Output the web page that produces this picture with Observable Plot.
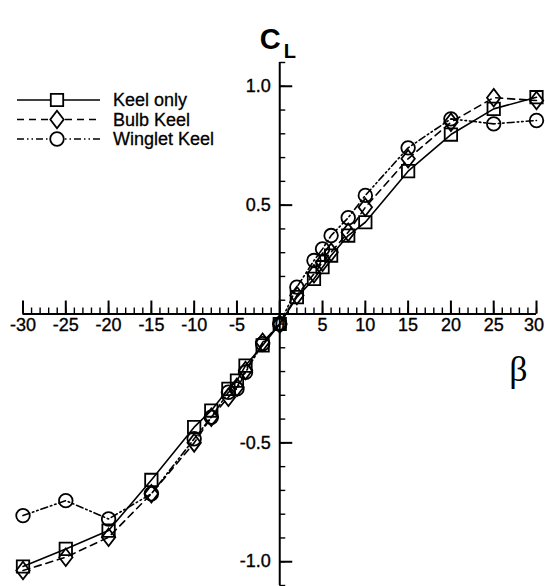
<!DOCTYPE html>
<html><head><meta charset="utf-8">
<script src="https://cdn.jsdelivr.net/npm/d3@7"></script>
<script src="https://cdn.jsdelivr.net/npm/@observablehq/plot@0.6"></script>
<style>
html,body{margin:0;padding:0;background:#fff;}
#wrap{position:relative;width:545px;height:586px;}
#wrap svg{position:absolute;left:0;top:0;}
</style></head><body><div id="wrap"></div>
<script>
// ---- data ----
const beta = [-30,-25,-20,-15,-10,-8,-6,-5,-4,-2,0,2,4,5,6,8,10,15,20,25,30];
const keelOnly = [-1.02,-0.946,-0.869,-0.656,-0.434,-0.364,-0.273,-0.238,-0.175,-0.09,0,0.113,0.19,0.239,0.288,0.372,0.428,0.643,0.797,0.905,0.954];
const bulbKeel = [-1.037,-0.981,-0.897,-0.714,-0.50,-0.392,-0.308,-0.266,-0.196,-0.077,0,0.12,0.211,0.26,0.302,0.386,0.491,0.695,0.849,0.952,0.94];
const wingletKeel = [-0.806,-0.743,-0.82,-0.714,-0.483,-0.392,-0.287,-0.273,-0.203,-0.083,0,0.155,0.267,0.316,0.372,0.447,0.541,0.741,0.863,0.842,0.856];
const seriesNames = ["Keel only","Bulb Keel","Winglet Keel"];
const xTickValues = [-30,-25,-20,-15,-10,-5,0,5,10,15,20,25,30];
const xTickLabels = ["-30","-25","-20","-15","-10","-5","0","5","10","15","20","25","30"];
const yTickValues = [1.0,0.5,-0.5,-1.0];
const yTickLabels = ["1.0","0.5","-0.5","-1.0"];
const yTitle = "C", yTitleSub = "L", xTitle = "\u03B2";

// ---- layout ----
const W = 545, H = 586;
const mL = 22.5, mR = 9, mT = 62, mB = 1;
const kx = (W - mL - mR) / 60, ky = (H - mT - mB) / 2.2;
const axisY = 0.042;
const font = "'Liberation Sans', Arial, sans-serif";

const diamondSym = {draw(ctx, size){const s=Math.sqrt(size); const h=0.74*s, w=0.565*s; ctx.moveTo(0,-h); ctx.lineTo(w,0); ctx.lineTo(0,h); ctx.lineTo(-w,0); ctx.closePath();}};
const styles = [
  {symbol: "square", r: 7, dash: null},
  {symbol: diamondSym, r: 6.7, dash: "7,5"},
  {symbol: "circle", r: 6.8, dash: "7,3,1.5,3,1.5,3"}
];
const seriesValues = [keelOnly, bulbKeel, wingletKeel];
const tables = seriesValues.map(vals => beta.map((b,i) => ({beta: b, cl: vals[i]})));

const minorY = d3.range(-11, 12).map(v => v/10);
const minorX = d3.range(-30, 31);
const txt = {fill: "black", stroke: "black", strokeWidth: 0.35};
const xLab = xTickValues.map((v, i) => ({v, label: xTickLabels[i]}));
const lastX = xLab.length - 1;

const marks = [
  Plot.ruleX([0], {y1: -1.1, y2: 1.1, stroke: "black", strokeWidth: 2}),
  Plot.ruleY(minorY, {x1: 0, x2: 6/kx, stroke: "black", strokeWidth: 1.4}),
  Plot.ruleY(yTickValues, {x1: 0, x2: 13/kx, stroke: "black", strokeWidth: 2}),
  Plot.text(yTickValues, {x: 0, y: d => d, text: (d,i) => yTickLabels[i], textAnchor: "end", dx: -9, fontSize: 18, ...txt}),
  Plot.ruleY([axisY], {x1: -30, x2: 30, stroke: "black", strokeWidth: 2}),
  Plot.ruleX(minorX, {y1: axisY, y2: axisY + 6/ky, stroke: "black", strokeWidth: 1.4}),
  Plot.ruleX(xTickValues, {y1: axisY, y2: axisY + 13/ky, stroke: "black", strokeWidth: 2}),
  Plot.text(xLab.slice(0, lastX), {x: "v", y: () => axisY, text: "label", lineAnchor: "top", dy: 4, fontSize: 18, ...txt}),
  Plot.text(xLab.slice(lastX), {x: "v", y: () => axisY, text: "label", lineAnchor: "top", textAnchor: "end", dx: 7.5, dy: 4, fontSize: 18, ...txt}),
  Plot.text([yTitle], {frameAnchor: "top", dx: -9.5, dy: -34, fontSize: 29, fontWeight: "bold", fill: "black"}),
  Plot.text([yTitleSub], {frameAnchor: "top", dx: 10, dy: -19, fontSize: 20, fontWeight: "bold", fill: "black"}),
  Plot.text([xTitle], {frameAnchor: "right", dx: -9, dy: 45, fontSize: 36, fontFamily: "'Liberation Serif', 'Times New Roman', serif", fill: "black"})
];
tables.forEach((t, k) => {
  const st = styles[k];
  marks.push(Plot.line(t, {x: "beta", y: "cl", stroke: "black", strokeWidth: 1.6, strokeDasharray: st.dash}));
  marks.push(Plot.dot(t, {x: "beta", y: "cl", symbol: st.symbol, r: st.r, stroke: "black", strokeWidth: 1.8, fill: "none"}));
});

const chart = Plot.plot({
  width: W, height: H,
  marginLeft: mL, marginRight: mR, marginTop: mT, marginBottom: mB,
  x: {domain: [-30, 30], axis: null},
  y: {domain: [-1.1, 1.1], axis: null},
  style: {fontFamily: font, background: "white", color: "black"},
  marks
});
document.getElementById("wrap").appendChild(chart);

// ---- legend (overlay, top-left) ----
const lg = d3.select("#wrap").append("svg").attr("width", 220).attr("height", 160)
  .style("font-family", font);
const rowY = [100, 119.5, 139];
seriesNames.forEach((name, k) => {
  const st = styles[k];
  const y = rowY[k];
  lg.append("line").attr("x1", 17).attr("x2", 100).attr("y1", y).attr("y2", y)
    .attr("stroke", "black").attr("stroke-width", 1.6)
    .attr("stroke-dasharray", st.dash);
  const type = st.symbol === "square" ? d3.symbolSquare : st.symbol === "circle" ? d3.symbolCircle : st.symbol;
  lg.append("path").attr("d", d3.symbol(type, Math.PI * st.r * st.r)())
    .attr("transform", `translate(57,${y})`)
    .attr("fill", "white").attr("stroke", "black").attr("stroke-width", 1.8);
  lg.append("text").attr("x", 113).attr("y", y).attr("dy", "0.35em")
    .attr("font-size", 18).attr("fill", "black").attr("stroke", "black").attr("stroke-width", 0.3).text(name);
});
</script>
</body></html>
